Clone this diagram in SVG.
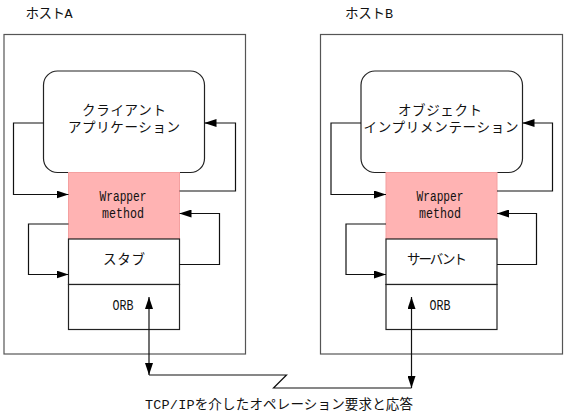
<svg xmlns="http://www.w3.org/2000/svg" width="565" height="416" viewBox="0 0 565 416">
<defs>
<marker id="ah" viewBox="0 0 12 8" refX="12" refY="4" markerWidth="12" markerHeight="8" markerUnits="userSpaceOnUse" orient="auto-start-reverse">
<path d="M0,0 L12,4 L0,8 z" fill="#000"/>
</marker>
<style>
.host{fill:#fff;stroke:#555;stroke-width:1.2}
.box{fill:#fff;stroke:#222;stroke-width:1.2}
.wr{fill:#ffb3b3;stroke:#f4a0a0;stroke-width:1}
.ln{fill:none;stroke:#111;stroke-width:1.2}
text{font-family:"Liberation Mono","Noto Sans CJK JP",monospace;font-size:13.5px;fill:#111;text-anchor:middle;dominant-baseline:central}
.lat{font-size:14.5px}
</style>
</defs>
<rect width="565" height="416" fill="#fff"/>
<g id="hostA">
<text x="49" y="14" textLength="47" lengthAdjust="spacing">ホストA</text>
<rect class="host" x="4" y="34.5" width="241.5" height="319.5"/>
</g>
<g id="hostB">
<text x="369" y="14" textLength="48" lengthAdjust="spacing">ホストB</text>
<rect class="host" x="320.5" y="34.5" width="242" height="319.5"/>
</g>
<g id="clientApp">
<rect class="box" x="43.5" y="71" width="161" height="101.5" rx="14"/>
<text x="124" y="111.5" textLength="84" lengthAdjust="spacing">クライアント</text>
<text x="124" y="128.5" textLength="112" lengthAdjust="spacing">アプリケーション</text>
</g>
<g id="wrapperA">
<rect class="wr" x="68.5" y="172.5" width="111" height="66.5"/>
<text class="lat" x="123" y="196.5" textLength="47" lengthAdjust="spacingAndGlyphs">Wrapper</text>
<text class="lat" x="123" y="213.5" textLength="42" lengthAdjust="spacingAndGlyphs">method</text>
</g>
<g id="stub">
<rect class="box" x="68.5" y="239" width="111" height="45.5"/>
<text x="124" y="260" textLength="42" lengthAdjust="spacing">スタブ</text>
</g>
<g id="orbA">
<rect class="box" x="68.5" y="284.5" width="111" height="45"/>
<text class="lat" x="123" y="305.5" textLength="21" lengthAdjust="spacingAndGlyphs">ORB</text>
</g>
<g id="objImpl">
<rect class="box" x="361" y="71" width="161.5" height="101.5" rx="14"/>
<text x="440" y="111.5" textLength="84" lengthAdjust="spacing">オブジェクト</text>
<text x="441" y="128.5" textLength="155" lengthAdjust="spacing">インプリメンテーション</text>
</g>
<g id="wrapperB">
<rect class="wr" x="386" y="172.5" width="111" height="66.5"/>
<text class="lat" x="440" y="196.5" textLength="47" lengthAdjust="spacingAndGlyphs">Wrapper</text>
<text class="lat" x="440" y="213.5" textLength="42" lengthAdjust="spacingAndGlyphs">method</text>
</g>
<g id="servant">
<rect class="box" x="386" y="239" width="111" height="45.5"/>
<text x="437" y="260" textLength="60" lengthAdjust="spacing">サーバント</text>
</g>
<g id="orbB">
<rect class="box" x="386" y="284.5" width="111" height="45"/>
<text class="lat" x="440" y="305.5" textLength="21" lengthAdjust="spacingAndGlyphs">ORB</text>
</g>
<g id="connectors">
<path class="ln" d="M43.5,123 H13.5 V194.5 H68.5" marker-end="url(#ah)"/>
<path class="ln" d="M179.5,191 H235.5 V123 H204.5" marker-end="url(#ah)"/>
<path class="ln" d="M68.5,224 H28.5 V274.5 H68.5" marker-end="url(#ah)"/>
<path class="ln" d="M179.5,264.5 H219.5 V213.5 H179.5" marker-end="url(#ah)"/>
<path class="ln" d="M361,123 H331 V194.5 H386" marker-end="url(#ah)"/>
<path class="ln" d="M497,191 H552.5 V123 H522.5" marker-end="url(#ah)"/>
<path class="ln" d="M386,224 H346 V274.5 H386" marker-end="url(#ah)"/>
<path class="ln" d="M497,264.5 H536.5 V213.5 H497" marker-end="url(#ah)"/>
<path class="ln" d="M149,297 V375" marker-start="url(#ah)" marker-end="url(#ah)"/>
<path class="ln" d="M411.5,297 V388" marker-start="url(#ah)" marker-end="url(#ah)"/>
<path class="ln" d="M149,375 H286.5 L273.5,388 H411.5"/>
<text x="279" y="405" textLength="268" lengthAdjust="spacing">TCP/IPを介したオペレーション要求と応答</text>
</g>
</svg>
